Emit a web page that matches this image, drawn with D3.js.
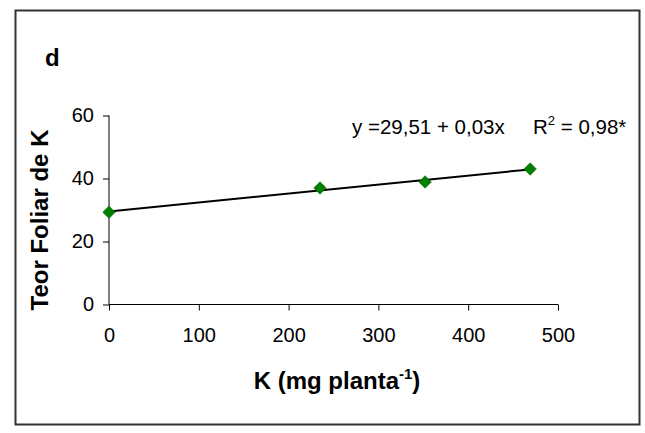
<!DOCTYPE html>
<html>
<head>
<meta charset="utf-8">
<script src="https://cdnjs.cloudflare.com/ajax/libs/d3/7.8.5/d3.min.js"></script>
<style>
  body { margin: 0; background: #fff; }
  svg text { font-family: Arial, "Liberation Sans", sans-serif; fill: #000; }
</style>
</head>
<body>
<svg width="645" height="433"></svg>
<script>
// dose de K aplicada e teor foliar
var doses = [0, 235, 352, 469];
var teor = [29.3, 37.0, 38.9, 43.0];
var xTicks = [0, 100, 200, 300, 400, 500];
var yTicks = [0, 20, 40, 60];

var svg = d3.select("svg");

// moldura
svg.append("rect")
    .attr("x", 15.5).attr("y", 10.5)
    .attr("width", 624).attr("height", 414)
    .style("fill", "none").style("stroke", "#333").style("stroke-width", 2);

var x = d3.scaleLinear().domain([0, 500]).range([109, 558]);
var y = d3.scaleLinear().domain([0, 60]).range([304.5, 115.5]);

var xAxis = svg.append("g")
    .attr("transform", "translate(0," + y(0) + ")")
    .call(d3.axisBottom(x).tickValues(xTicks).tickSize(6).tickPadding(17));
xAxis.select(".domain").attr("d", "M" + x(0) + ",0H" + x(500));

var yAxis = svg.append("g")
    .attr("transform", "translate(" + x(0) + ",0)")
    .call(d3.axisLeft(y).tickValues(yTicks).tickSize(6).tickPadding(9));
yAxis.select(".domain").attr("d", "M0," + y(0) + "V" + y(60));

svg.selectAll(".tick text").style("font-size", "20px");
svg.selectAll(".domain, .tick line").style("stroke", "#000");

// reta ajustada (minimos quadrados sobre os pontos)
var mx = d3.mean(doses), my = d3.mean(teor);
var b = d3.sum(doses, function(d, i) { return (d - mx) * (teor[i] - my); }) /
        d3.sum(doses, function(d) { return (d - mx) * (d - mx); });
var a = my - b * mx;
var xs = [0, d3.max(doses)];
svg.append("path")
    .datum(xs)
    .attr("d", d3.line().x(function(d) { return x(d); }).y(function(d) { return y(a + b * d); }))
    .style("stroke", "#000").style("stroke-width", 2).style("fill", "none");

// pontos
svg.selectAll(".pt")
    .data(doses)
    .enter().append("path")
    .attr("class", "pt")
    .attr("d", d3.symbol().type(d3.symbolDiamond2).size(100))
    .attr("transform", function(d, i) { return "translate(" + x(d) + "," + y(teor[i]) + ")"; })
    .style("fill", "#008000").style("stroke", "#006000").style("stroke-width", 0.5);

// textos
svg.append("text").attr("x", 45).attr("y", 66)
    .style("font-size", "24px").style("font-weight", "bold").text("d");

svg.append("text").attr("x", 352).attr("y", 134)
    .style("font-size", "20.5px").text("y =29,51 + 0,03x");

var r2 = svg.append("text").attr("x", 533).attr("y", 134).style("font-size", "20.5px");
r2.append("tspan").text("R");
r2.append("tspan").attr("dy", -9).style("font-size", "13px").text("2");
r2.append("tspan").attr("dy", 9).text(" = 0,98*");

var xl = svg.append("text").attr("x", 337).attr("y", 389)
    .attr("text-anchor", "middle")
    .style("font-size", "24px").style("font-weight", "bold");
xl.append("tspan").text("K (mg planta");
xl.append("tspan").attr("dy", -10).style("font-size", "15px").text("-1");
xl.append("tspan").attr("dy", 10).text(")");

svg.append("text")
    .attr("transform", "translate(48,220) rotate(-90)")
    .attr("text-anchor", "middle")
    .style("font-size", "24px").style("font-weight", "bold")
    .text("Teor Foliar de K");
</script>
</body>
</html>
